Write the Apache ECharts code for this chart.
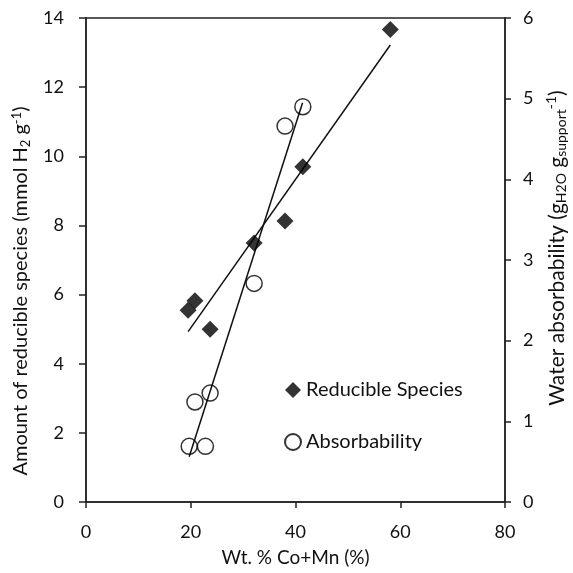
<!DOCTYPE html>
<html>
<head>
<meta charset="utf-8">
<script src="https://cdn.jsdelivr.net/npm/echarts@6/dist/echarts.min.js"></script>
<style>
html,body{margin:0;padding:0;background:#fff;}
#chart{width:573px;height:573px;}
</style>
</head>
<body>
<div id="chart"></div>
<script>
// Data
const reducibleX = [19.5, 20.8, 23.7, 32.1, 38.0, 41.4, 58.1];
const reducibleY = [5.55, 5.82, 5.0, 7.49, 8.13, 9.70, 13.67];
const absorbX = [19.7, 22.8, 20.8, 23.7, 32.1, 38.0, 41.4];
const absorbY = [0.69, 0.69, 1.24, 1.35, 2.71, 4.66, 4.90];
const reducibleTrendX = [19.5, 58.1];
const reducibleTrendY = [4.93, 13.22];
const absorbTrendX = [19.7, 41.35];
const absorbTrendY = [0.56, 4.95];
const xTicks = [0, 20, 40, 60, 80];
const leftTicks = [0, 2, 4, 6, 8, 10, 12, 14];
const rightTicks = [0, 1, 2, 3, 4, 5, 6];

const zip = (a, b) => a.map((v, i) => [v, b[i]]);
const FONT = 'Lato';
const AX = '#222';
const TXT = '#111';

const chart = echarts.init(document.getElementById('chart'), null, {renderer: 'canvas'});
chart.setOption({
  animation: false,
  backgroundColor: '#fff',
  textStyle: {fontFamily: FONT},
  grid: {left: 86, right: 68, top: 18, bottom: 71, containLabel: false, outerBoundsMode: 'none',
    show: true, borderColor: AX, borderWidth: 1.5, backgroundColor: 'transparent'},
  legend: {
    orient: 'vertical', left: 279, top: 375, itemGap: 32, itemWidth: 16, itemHeight: 16,
    textStyle: {fontFamily: FONT, fontSize: 20, color: TXT},
    data: ['Reducible Species', 'Absorbability']
  },
  xAxis: {
    type: 'value', min: xTicks[0], max: xTicks[xTicks.length - 1], interval: 20,
    name: 'Wt. % Co+Mn (%)', nameLocation: 'middle', nameGap: 46,
    nameTextStyle: {fontFamily: FONT, fontSize: 19, color: TXT},
    axisLine: {show: true, lineStyle: {color: AX, width: 1.5}},
    axisTick: {show: true, length: 6, lineStyle: {color: AX, width: 1.5}},
    axisLabel: {fontFamily: FONT, fontSize: 18, color: TXT, margin: 21},
    splitLine: {show: false}
  },
  yAxis: [{
    type: 'value', min: leftTicks[0], max: leftTicks[leftTicks.length - 1], interval: 2, position: 'left',
    name: 'Amount of reducible species (mmol H{sub|2} g{sup|-1})', nameLocation: 'middle', nameGap: 54,
    nameTextStyle: {fontFamily: FONT, fontSize: 20, color: TXT, padding: [0, 62, 0, 0],
      rich: {
        sub: {fontSize: 13, fontFamily: FONT, color: TXT, padding: [9, 0, 0, 0]},
        sup: {fontSize: 13, fontFamily: FONT, color: TXT, padding: [0, 0, 9, 0]}
      }},
    axisLine: {show: true, lineStyle: {color: AX, width: 1.5}},
    axisTick: {show: true, length: 7, lineStyle: {color: AX, width: 1.5}},
    axisLabel: {fontFamily: FONT, fontSize: 18, color: TXT, margin: 22},
    splitLine: {show: false}
  }, {
    type: 'value', min: rightTicks[0], max: rightTicks[rightTicks.length - 1], interval: 1, position: 'right',
    name: 'Water absorbability (g{sub|H2O} g{sub|support}{sup|-1})', nameLocation: 'middle', nameGap: 33,
    nameTextStyle: {fontFamily: FONT, fontSize: 21, color: TXT, padding: [0, 0, 0, 24],
      rich: {
        sub: {fontSize: 14, fontFamily: FONT, color: TXT, padding: [9, 0, 0, 0]},
        sup: {fontSize: 14, fontFamily: FONT, color: TXT, padding: [0, 0, 12, 0]}
      }},
    axisLine: {show: true, lineStyle: {color: AX, width: 1.5}},
    axisTick: {show: true, length: 6, lineStyle: {color: AX, width: 1.5}},
    axisLabel: {fontFamily: FONT, fontSize: 18, color: TXT, margin: 18},
    splitLine: {show: false}
  }],
  series: [{
    name: 'Reducible Trend', type: 'line', yAxisIndex: 0, data: zip(reducibleTrendX, reducibleTrendY),
    showSymbol: false, symbol: 'none', lineStyle: {color: '#111', width: 1.5}, z: 2, silent: true
  }, {
    name: 'Absorb Trend', type: 'line', yAxisIndex: 1, data: zip(absorbTrendX, absorbTrendY),
    showSymbol: false, symbol: 'none', lineStyle: {color: '#111', width: 1.5}, z: 2, silent: true
  }, {
    name: 'Reducible Species', type: 'scatter', yAxisIndex: 0, data: zip(reducibleX, reducibleY),
    symbol: 'diamond', symbolSize: 17, itemStyle: {color: '#000'}, z: 3
  }, {
    name: 'Absorbability', type: 'scatter', yAxisIndex: 1, data: zip(absorbX, absorbY),
    symbol: 'circle', symbolSize: 16, itemStyle: {color: 'rgba(255,255,255,0)', borderColor: '#000', borderWidth: 1.5}, z: 3
  }]
});
</script>
</body>
</html>
